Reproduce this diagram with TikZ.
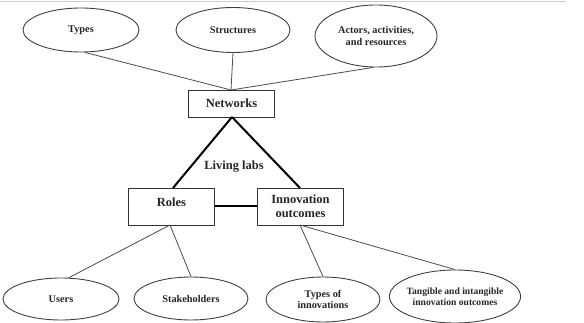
\documentclass[tikz,border=0pt]{standalone}
\usepackage{fontspec}
\setmainfont{Liberation Serif}
\usetikzlibrary{shapes.geometric}
\begin{document}
\begin{tikzpicture}[x=1pt,y=-1pt,
  oval/.style={draw=black!75,line width=0.9pt,ellipse,inner sep=0pt,align=center,
    font=\bfseries\fontsize{10.3}{11.5}\selectfont,text=black!85},
  boxn/.style={draw=black!80,line width=0.9pt,rectangle,inner sep=0pt,align=center,
    minimum width=86pt,minimum height=27pt,font=\bfseries\fontsize{12.5}{14}\selectfont,text=black!85},
  thin/.style={draw=black!70,line width=0.8pt},
  thick/.style={draw=black,line width=2pt}]
\useasboundingbox (0,0) rectangle (584,323);
\draw[black!20,line width=0.8pt] (0,1.5) -- (566,1.5);
% top ovals
\node[oval,minimum width=116pt,minimum height=44pt] (types) at (81,30) {Types};
\node[oval,minimum width=114pt,minimum height=45pt] (struct) at (233,30) {Structures};
\node[oval,minimum width=122pt,minimum height=62pt] (actors) at (376,36) {Actors, activities,\\and resources};
% boxes
\node[boxn] (net) at (231.5,103.5) {Networks};
\node[boxn,minimum height=37pt,text depth=9pt] (roles) at (171.5,206.5) {Roles};
\node[boxn,minimum height=37pt] (innov) at (300.5,206.5) {Innovation\\outcomes};
\node[font=\bfseries\fontsize{12.5}{13}\selectfont,text=black!85] (ll) at (234,167) {Living labs};
% bottom ovals
\node[oval,minimum width=116pt,minimum height=42pt] (users) at (61,299) {Users};
\node[oval,minimum width=114pt,minimum height=43pt] (stake) at (191,298.5) {Stakeholders};
\node[oval,minimum width=114pt,minimum height=45pt] (toi) at (323,299.5) {Types of\\innovations};
\node[oval,minimum width=130pt,minimum height=53pt,inner sep=-2pt,
  font=\bfseries\fontsize{9.6}{11}\selectfont] (tang) at (455,296.5) {Tangible and intangible\\innovation outcomes};
% connectors
\coordinate (nt) at (231,90);
\draw[thin] (types.-80) -- (nt);
\draw[thin] (struct.south) -- (nt);
\draw[thin] (actors.-95) -- (nt);
\draw[thick] (232,117) -- (173,188);
\draw[thick] (232,117) -- (300,188);
\draw[thick] (roles.east) -- (innov.west);
\coordinate (rb) at (170,225);
\coordinate (ib) at (300,225);
\draw[thin] (rb) -- (users.70);
\draw[thin] (rb) -- (stake.north);
\draw[thin] (ib) -- (toi.north);
\draw[thin] (ib) -- (tang.north);
\end{tikzpicture}
\end{document}
